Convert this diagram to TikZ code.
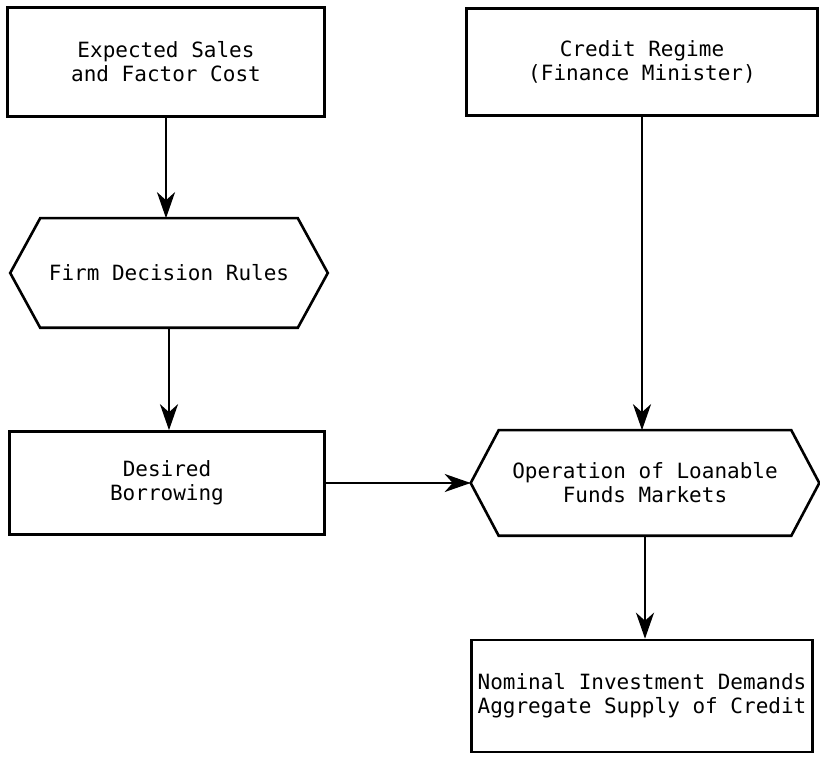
\documentclass[tikz,border=0pt]{standalone}
\usepackage{fontspec}
\setmonofont{DejaVu Sans Mono}
\usetikzlibrary{arrows.meta}
\begin{document}
\begin{tikzpicture}[x=0.5pt, y=-0.5pt, line width=1.3pt,
  box/.style={rectangle, draw, align=center, inner sep=0pt, font=\ttfamily\fontsize{10.5}{12}\selectfont},
  hex/.style={rectangle, align=center, inner sep=0pt, font=\ttfamily\fontsize{10.5}{12}\selectfont},
  arr/.style={-{Stealth[length=13pt,width=9pt,inset=4pt]}}]
       \useasboundingbox (0,0) rectangle (820,758);
       \node[box, minimum width=158.5pt, minimum height=54.5pt] (sales) at (166,62) {Expected Sales\\and Factor Cost};
       \node[box, minimum width=175.5pt, minimum height=53.5pt] (credit) at (642,62) {Credit Regime\\(Finance Minister)};
       \node[hex, minimum width=157.5pt, minimum height=53.5pt] (rules) at (169,273) {Firm Decision Rules};
       \node[box, minimum width=157.5pt, minimum height=51.5pt] (borrow) at (167,483) {Desired\\Borrowing};
       \node[hex, minimum width=173pt, minimum height=51.5pt] (market) at (645,483) {Operation of Loanable\\Funds Markets};
       \node[box, minimum width=170.5pt, minimum height=56pt] (nominal) at (642,696) {Nominal Investment Demands\\Aggregate Supply of Credit};

       \foreach \h/\d in {rules/15pt, market/14pt}{
         \draw (\h.west) -- ([xshift=\d]\h.north west) -- ([xshift=-\d]\h.north east) -- (\h.east)
           -- ([xshift=-\d]\h.south east) -- ([xshift=\d]\h.south west) -- cycle; }
       \foreach \a/\b in {sales/rules, rules/borrow}{\draw[arr] (\a.south) -- (\a.south |- \b.north); }
       \draw[arr] (credit.south) -- (credit.south |- market.north);
       \draw[arr] (market.south) -- (market.south |- nominal.north);
       \draw[arr] (borrow.east) -- (market.west);
     \end{tikzpicture}
\end{document}
